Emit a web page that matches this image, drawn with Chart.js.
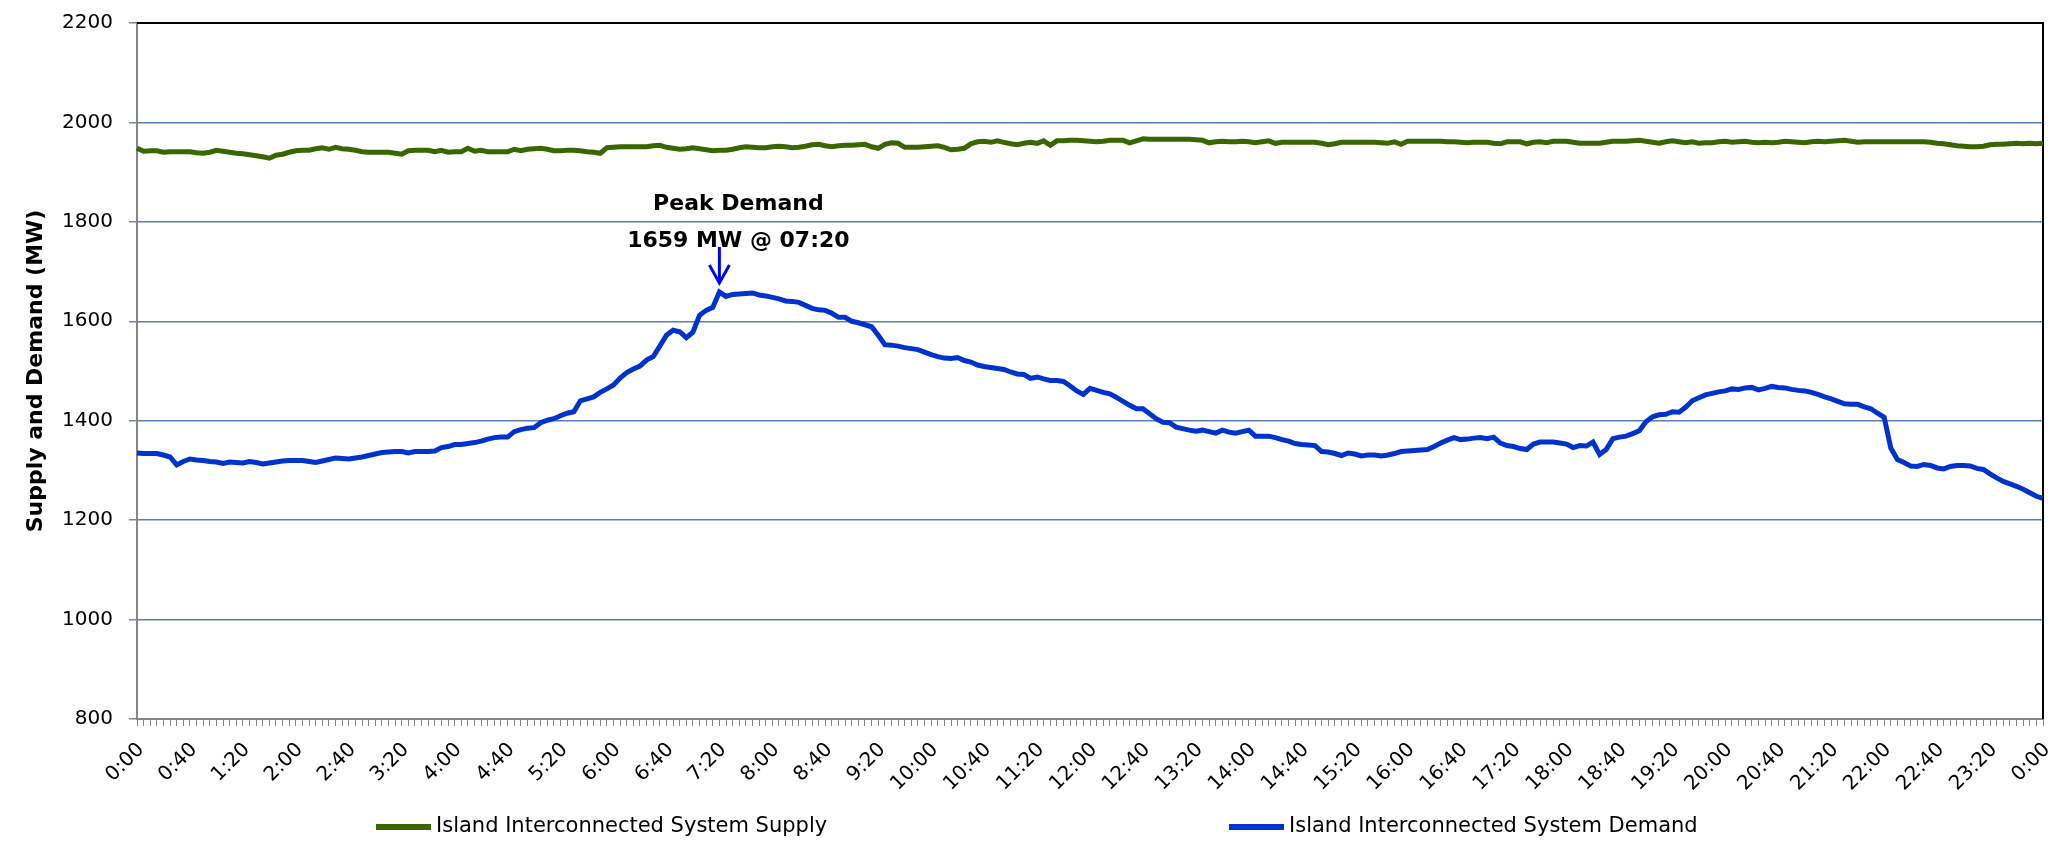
<!DOCTYPE html>
<html>
<head>
<meta charset="utf-8">
<script src="https://cdn.jsdelivr.net/npm/chart.js@4.4.0/dist/chart.umd.min.js"></script>
<style>
  html, body { margin: 0; padding: 0; background: #fff; }
  #wrap { width: 2056px; height: 843px; position: relative; }
</style>
</head>
<body>
<div id="wrap"><canvas id="supply-demand-chart"></canvas></div>
<script>
// 5-minute intervals across the day, ending on the next 0:00
const timeLabels = [];
for (let h = 0; h < 24; h++) {
  for (let m = 0; m < 60; m += 5) {
    timeLabels.push(h + ':' + (m < 10 ? '0' + m : m));
  }
}
timeLabels.push('0:00');

const seriesNames = ['Island Interconnected System Supply', 'Island Interconnected System Demand'];

// MW, one row per hour
const supplyMW = [
  1948, 1942, 1943, 1943, 1940, 1941, 1941, 1941, 1941, 1939, 1938, 1940,
  1944, 1942, 1940, 1938, 1937, 1935, 1933, 1931, 1928, 1934, 1936, 1940,
  1943, 1944, 1944, 1947, 1949, 1946, 1950, 1947, 1946, 1944, 1941, 1940,
  1940, 1940, 1940, 1938, 1936, 1943, 1944, 1944, 1944, 1941, 1944, 1940,
  1941, 1941, 1948, 1942, 1944, 1941, 1941, 1941, 1941, 1946, 1943, 1946,
  1947, 1948, 1946, 1943, 1943, 1944, 1944, 1943, 1941, 1940, 1938, 1949,
  1950, 1951, 1951, 1951, 1951, 1951, 1953, 1954, 1950, 1948, 1946, 1947,
  1949, 1947, 1945, 1943, 1944, 1944, 1946, 1949, 1951, 1950, 1949, 1949,
  1951, 1952, 1951, 1949, 1950, 1952, 1955, 1956, 1953, 1951, 1953, 1954,
  1954, 1955, 1956, 1951, 1948, 1956, 1959, 1958, 1950, 1950, 1950, 1951,
  1952, 1953, 1950, 1945, 1946, 1948, 1957, 1961, 1962, 1960, 1963, 1960,
  1957, 1955, 1958, 1960, 1958, 1963, 1954, 1963, 1963, 1964, 1964, 1963,
  1962, 1961, 1962, 1964, 1964, 1964, 1959, 1963, 1967, 1966, 1966, 1966,
  1966, 1966, 1966, 1966, 1965, 1964, 1959, 1961, 1962, 1961, 1961, 1962,
  1961, 1959, 1961, 1963, 1958, 1960, 1960, 1960, 1960, 1960, 1960, 1958,
  1955, 1957, 1960, 1960, 1960, 1960, 1960, 1960, 1959, 1958, 1961, 1956,
  1962, 1962, 1962, 1962, 1962, 1962, 1961, 1961, 1960, 1959, 1960, 1960,
  1960, 1958, 1957, 1961, 1961, 1961, 1957, 1960, 1961, 1959, 1962, 1962,
  1962, 1960, 1958, 1958, 1958, 1958, 1960, 1962, 1962, 1962, 1963, 1964,
  1962, 1960, 1958, 1961, 1963, 1961, 1959, 1961, 1958, 1959, 1959, 1961,
  1962, 1960, 1961, 1962, 1960, 1959, 1960, 1959, 1960, 1962, 1961, 1960,
  1959, 1961, 1962, 1961, 1962, 1963, 1964, 1962, 1960, 1961, 1961, 1961,
  1961, 1961, 1961, 1961, 1961, 1961, 1961, 1960, 1958, 1957, 1955, 1953,
  1952, 1951, 1951, 1952, 1955, 1956, 1956, 1957, 1958, 1957, 1958, 1957,
  1958
];

const demandMW = [
  1335, 1334, 1334, 1334, 1331, 1327, 1311, 1318, 1323, 1321, 1320, 1318,
  1317, 1314, 1317, 1316, 1315, 1318, 1316, 1313, 1315, 1317, 1319, 1320,
  1320, 1320, 1318, 1316, 1319, 1322, 1325, 1324, 1323, 1325, 1327, 1330,
  1333, 1336, 1337, 1338, 1338, 1335, 1338, 1338, 1338, 1339, 1346, 1348,
  1352, 1352, 1354, 1356, 1359, 1363, 1366, 1367, 1367, 1378, 1382, 1385,
  1386, 1396, 1401, 1404, 1410, 1415, 1418, 1440, 1444, 1448, 1457, 1464,
  1472, 1486, 1497, 1504, 1510, 1522, 1529, 1550, 1572, 1582, 1579, 1567,
  1578, 1612, 1622, 1628, 1659, 1650, 1654, 1655, 1656, 1657, 1653, 1651,
  1648, 1645, 1641, 1640, 1638, 1632, 1626, 1623, 1622, 1616, 1608, 1608,
  1600, 1597, 1593, 1589, 1572, 1553, 1552, 1550, 1547, 1545, 1543, 1538,
  1533, 1529, 1526, 1525, 1527, 1521, 1518, 1512, 1509, 1507, 1505, 1503,
  1498, 1494, 1493, 1485, 1488, 1484, 1481, 1481, 1479, 1470, 1460, 1453,
  1465, 1461, 1457, 1454, 1447, 1439, 1431, 1424, 1424, 1414, 1404, 1397,
  1396, 1387, 1384, 1381, 1379, 1381, 1378, 1375, 1381, 1377, 1375, 1378,
  1381, 1369, 1369, 1369, 1366, 1362, 1359, 1354, 1352, 1351, 1350, 1338,
  1337, 1334, 1330, 1335, 1333, 1329, 1331, 1331, 1329, 1331, 1334, 1338,
  1339, 1340, 1341, 1342, 1348, 1355, 1361, 1366, 1362, 1363, 1365, 1366,
  1364, 1367, 1355, 1350, 1348, 1344, 1342, 1353, 1357, 1357, 1357, 1355,
  1353, 1346, 1350, 1349, 1357, 1332, 1342, 1364, 1367, 1369, 1374, 1380,
  1398, 1408, 1412, 1413, 1418, 1417, 1427, 1440, 1446, 1452, 1455, 1458,
  1460, 1464, 1463, 1466, 1467, 1462, 1465, 1469, 1467, 1466, 1463, 1461,
  1460, 1457, 1453, 1448, 1444, 1439, 1434, 1433, 1433, 1428, 1424, 1415,
  1407, 1345, 1322, 1316, 1309, 1308, 1312, 1310, 1305, 1303, 1308, 1310,
  1310, 1309, 1304, 1302, 1293, 1285, 1278, 1273, 1268, 1262, 1255, 1248,
  1244
];

const peakLabel = ['Peak Demand', '1659 MW @ 07:20'];
const peakIndex = 88;

const FONT = 'DejaVu Sans';
const supplyColor = '#386600';
const demandColor = '#0033cc';

// black frame on the top and right edge of the plot area
const frame = {
  id: 'frame',
  beforeDatasetsDraw(chart) {
    const {ctx, chartArea: a} = chart;
    ctx.save();
    ctx.strokeStyle = '#000';
    ctx.lineWidth = 2;
    ctx.beginPath();
    ctx.moveTo(a.left, a.top);
    ctx.lineTo(a.right, a.top);
    ctx.lineTo(a.right, a.bottom);
    ctx.stroke();
    ctx.restore();
  }
};

// peak demand callout with arrow
const peakNote = {
  id: 'peakNote',
  afterDatasetsDraw(chart) {
    const {ctx, scales} = chart;
    const px = scales.x.getPixelForValue(peakIndex);
    const py = scales.y.getPixelForValue(demandMW[peakIndex]);
    ctx.save();
    ctx.fillStyle = '#000';
    ctx.font = 'bold 22px "' + FONT + '"';
    ctx.textAlign = 'center';
    ctx.textBaseline = 'alphabetic';
    ctx.fillText(peakLabel[0], px + 19, py - 82);
    ctx.fillText(peakLabel[1], px + 19, py - 45);
    ctx.strokeStyle = '#0000ff';
    ctx.lineWidth = 3;
    ctx.beginPath();
    ctx.moveTo(px, py - 45);
    ctx.lineTo(px, py - 9);
    ctx.moveTo(px - 10, py - 27);
    ctx.lineTo(px, py - 9);
    ctx.lineTo(px + 10, py - 27);
    ctx.stroke();
    ctx.restore();
  }
};

// legend spread out along the bottom
const wideLegend = {
  id: 'wideLegend',
  afterDraw(chart) {
    const {ctx} = chart;
    const slots = [376, 1229];
    const y = 827;
    ctx.save();
    ctx.font = '21px "' + FONT + '"';
    ctx.textBaseline = 'middle';
    chart.data.datasets.forEach((ds, i) => {
      const x = slots[i];
      ctx.strokeStyle = ds.borderColor;
      ctx.lineWidth = 6;
      ctx.beginPath();
      ctx.moveTo(x, y);
      ctx.lineTo(x + 55, y);
      ctx.stroke();
      ctx.fillStyle = '#000';
      ctx.fillText(ds.label, x + 60, y);
    });
    ctx.restore();
  }
};

const ctx = document.getElementById('supply-demand-chart').getContext('2d');
const supplyDemandChart = new Chart(ctx, {
  type: 'line',
  data: {
    labels: timeLabels,
    datasets: [
      {
        label: seriesNames[0],
        data: supplyMW,
        borderColor: supplyColor,
        backgroundColor: supplyColor,
        borderWidth: 5,
        pointRadius: 0,
        tension: 0
      },
      {
        label: seriesNames[1],
        data: demandMW,
        borderColor: demandColor,
        backgroundColor: demandColor,
        borderWidth: 5,
        pointRadius: 0,
        tension: 0
      }
    ]
  },
  options: {
    responsive: true,
    maintainAspectRatio: false,
    animation: false,
    layout: { padding: { left: 0, right: 13, top: 23, bottom: 0 } },
    plugins: {
      legend: { display: false },
      tooltip: { enabled: false }
    },
    scales: {
      x: {
        offset: false,
        afterFit(scale) {
          scale.height = 124;
          scale.paddingLeft = 0;
          scale.paddingRight = 0;
        },
        border: { color: '#868686', width: 2 },
        grid: {
          drawOnChartArea: false,
          drawTicks: true,
          tickLength: 7,
          tickColor: '#868686',
          offset: false
        },
        ticks: {
          autoSkip: false,
          maxRotation: 45,
          minRotation: 45,
          padding: 12,
          labelOffset: 4,
          color: '#000',
          font: { family: FONT, size: 20 },
          callback(value, index) {
            return index % 8 === 0 ? this.getLabelForValue(value) : '';
          }
        }
      },
      y: {
        min: 800,
        max: 2200,
        afterFit(scale) {
          scale.width = 137;
          scale.paddingTop = 0;
          scale.paddingBottom = 0;
        },
        border: { color: '#868686', width: 2 },
        grid: {
          color: '#5b7db1',
          lineWidth: 1.5,
          tickLength: 8,
          tickColor: '#868686'
        },
        ticks: {
          stepSize: 200,
          padding: 16,
          color: '#000',
          font: { family: FONT, size: 20 },
          callback(value) { return String(value); }
        },
        title: {
          display: true,
          text: 'Supply and Demand (MW)',
          color: '#000',
          font: { family: FONT, size: 22, weight: 'bold' },
          padding: { top: 23, bottom: 0 }
        }
      }
    }
  },
  plugins: [frame, peakNote, wideLegend]
});
</script>
</body>
</html>
